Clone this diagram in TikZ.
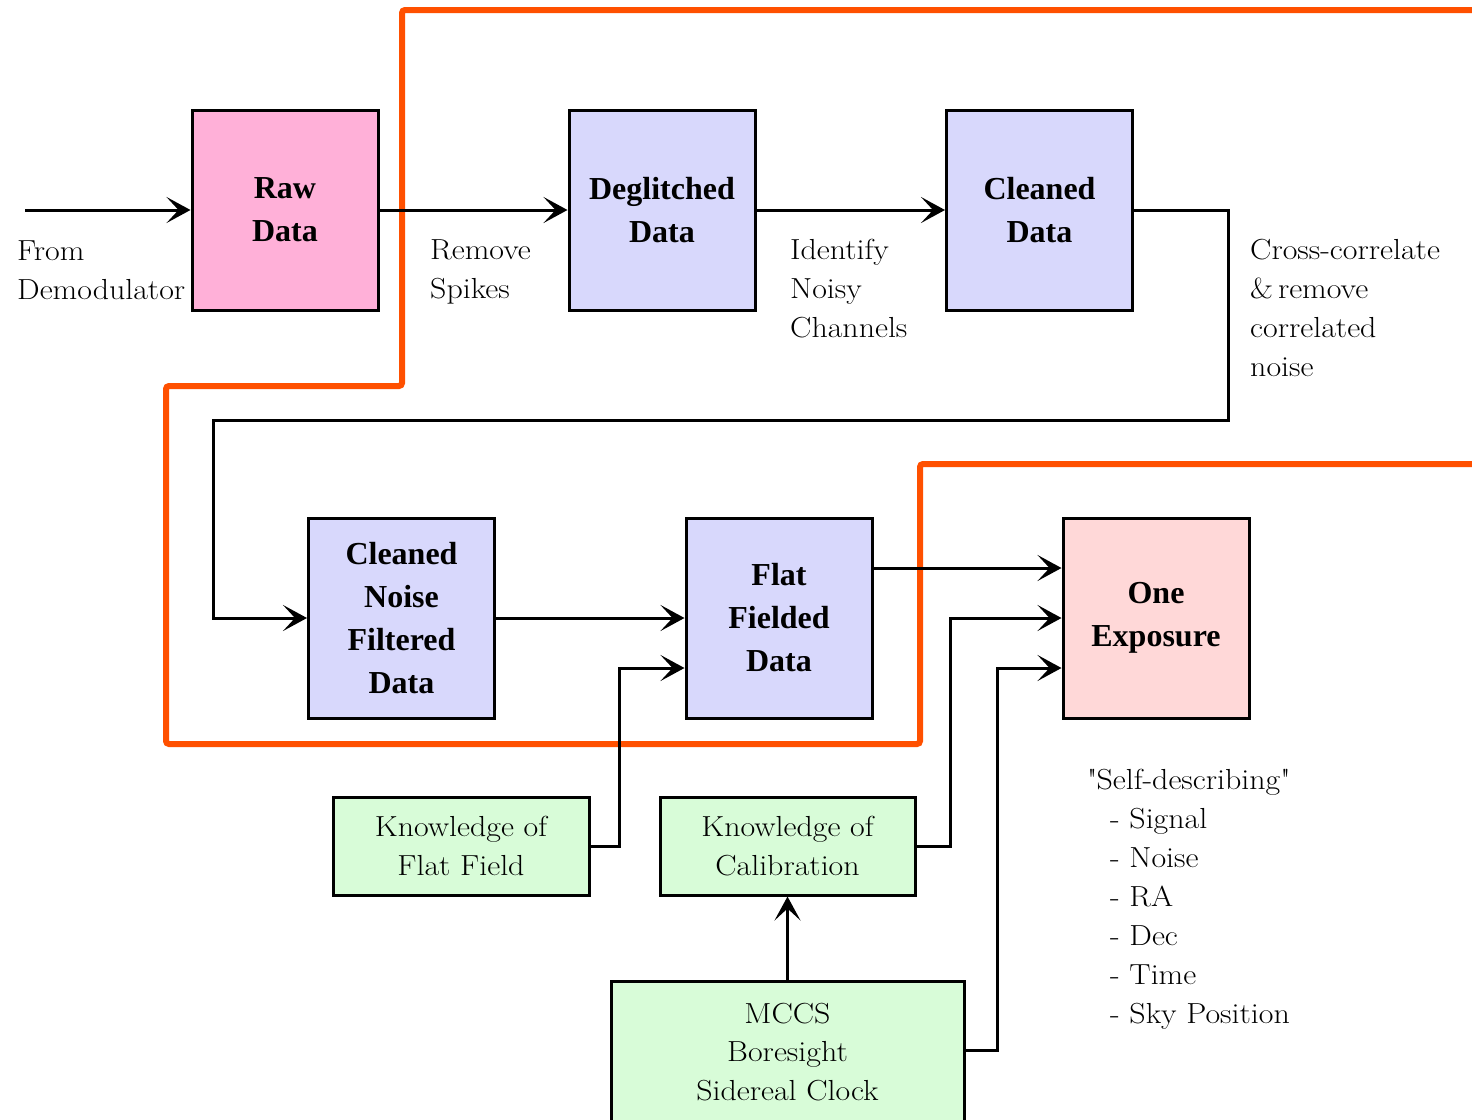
\documentclass[tikz,border=0pt]{standalone}
\usepackage{fontspec}
\usetikzlibrary{arrows.meta,calc}
\newfontfamily\boxserif{Liberation Serif}
\newfontfamily\lblfont{Latin Modern Roman}[FakeStretch=1.1]
\definecolor{rawpink}{HTML}{FFB0D8}
\definecolor{lav}{HTML}{D8D8FC}
\definecolor{expink}{HTML}{FFD8D8}
\definecolor{mint}{HTML}{D8FCD8}
\definecolor{orng}{HTML}{FF5000}
\begin{document}
\begin{tikzpicture}[x=1pt,y=-1pt,
  databox/.style={draw=black,line width=3pt,inner sep=0pt,minimum width=186pt,minimum height=200pt,
    align=center,font=\boxserif\bfseries\fontsize{32}{43}\selectfont},
  knowbox/.style={draw=black,line width=3pt,inner sep=0pt,fill=mint,minimum height=98pt,
    align=center,font=\lblfont\fontsize{29}{38.5}\selectfont},
  lbl/.style={anchor=west,align=left,inner sep=0pt,font=\lblfont\fontsize{29}{39}\selectfont},
  conn/.style={line width=3pt,line join=miter},
  arr/.style={conn,-{Stealth[length=24pt,width=26pt,inset=12pt]}},
  bound/.style={draw=orng,line width=6pt,rounded corners=3pt}]
\useasboundingbox (0,0) rectangle (1472,1119);
% boundary line
\draw[bound] (1480,10) -- (402,10) -- (402,386) -- (166,386) -- (166,744) -- (920,744) -- (920,464) -- (1480,464);
% boxes
\node[databox,fill=rawpink] (raw) at (285,210) {Raw\\Data};
\node[databox,fill=lav] (degl) at (662,210) {Deglitched\\Data};
\node[databox,fill=lav] (clean) at (1039.5,210) {Cleaned\\Data};
\node[databox,fill=lav] (cnfd) at (401.5,618) {Cleaned\\Noise\\Filtered\\Data};
\node[databox,fill=lav] (ffd) at (779,618) {Flat\\Fielded\\Data};
\node[databox,fill=expink] (oe) at (1156,618) {One\\Exposure};
\node[knowbox,minimum width=256pt] (kff) at (461,846) {Knowledge of\\Flat Field};
\node[knowbox,minimum width=255pt] (kcal) at (787.5,846) {Knowledge of\\Calibration};
\node[knowbox,minimum width=353pt,minimum height=142pt] (mccs) at (787.5,1052) {MCCS\\Boresight\\Sidereal Clock};
% labels
\node[lbl] (lfrom) at (17,270) {From\\Demodulator};
\node[lbl] (lspk) at (430,272) {Remove\\Spikes};
\node[lbl] (lnoisy) at (790,289) {Identify\\Noisy\\Channels};
\node[lbl] (lcross) at (1250,308) {Cross-correlate\\\&\,remove\\correlated\\noise};
\node[lbl] (lself) at (1087,899) {\textquotedbl Self-describing\textquotedbl\\\hspace*{23pt}- Signal\\\hspace*{23pt}- Noise\\\hspace*{23pt}- RA\\\hspace*{23pt}- Dec\\\hspace*{23pt}- Time\\\hspace*{23pt}- Sky Position};
% connectors
\coordinate (src) at (25,210);
\draw[arr] (src) -- (raw.west);
\draw[arr] (raw.east) -- (degl.west);
\draw[arr] (degl.east) -- (clean.west);
\draw[arr] (clean.east) -- (1228,210) -- (1228,420) -- (213,420) |- (cnfd.west);
\draw[arr] (cnfd.east) -- (ffd.west);
\draw[arr] (kff.east) -- (619,846) |- ($(ffd.west)+(0,50)$);
\draw[arr] ($(ffd.east)+(0,-50)$) -- ($(oe.west)+(0,-50)$);
\draw[arr] (kcal.east) -- (950,846) |- (oe.west);
\draw[arr] (mccs.east) ++(0,-2) -- (997,1050) |- ($(oe.west)+(0,50)$);
\draw[arr] (mccs.north) -- (kcal.south);
\end{tikzpicture}
\end{document}
